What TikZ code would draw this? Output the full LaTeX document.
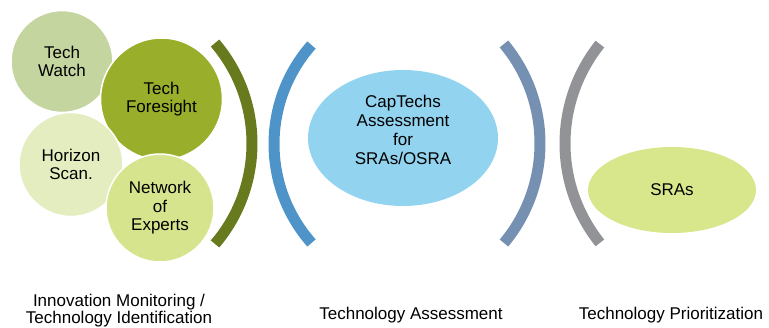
\documentclass[tikz,border=0pt]{standalone}
\usepackage{fontspec}
\setmainfont{Liberation Sans}
\usetikzlibrary{shapes.geometric}
\definecolor{watchgreen}{RGB}{197,213,160}
\definecolor{foregreen}{RGB}{153,174,42}
\definecolor{horizongreen}{RGB}{227,237,191}
\definecolor{expertgreen}{RGB}{214,229,141}
\definecolor{capblue}{RGB}{146,211,239}
\definecolor{sragreen}{RGB}{216,231,139}
\definecolor{olivearc}{RGB}{103,122,30}
\definecolor{bluearc}{RGB}{79,148,200}
\definecolor{slatearc}{RGB}{118,144,178}
\definecolor{grayarc}{RGB}{146,147,150}

\begin{document}
\begin{tikzpicture}[x=1pt, y=1pt,
                    every node/.style={font=\fontsize{17}{18.5}\selectfont, align=center, inner sep=0pt},
                    bubble_style/.style={circle, draw=white, line width=1.5pt, minimum size=#1},
                    oval_style/.style={ellipse, minimum width=#1},
                    arc_style/.style={line width=11pt}]
                    \useasboundingbox (0,0) rectangle (769,-327);
                    \node[bubble_style=102pt, fill=watchgreen] (watch) at (62,-61.5) {Tech\\Watch};
                    \node[bubble_style=122pt, fill=foregreen] (foresight) at (161.5,-99) {Tech\\Foresight};
                    \node[bubble_style=104pt, fill=horizongreen] (horizon) at (71,-164.5) {Horizon\\Scan.};
                    \node[bubble_style=108pt, fill=expertgreen] (experts) at (160,-208) {Network\\of\\Experts};
                    \node[oval_style=190pt, minimum height=136pt, fill=capblue] (cap) at (403,-138) {};
                    \node[font=\fontsize{17}{19}\selectfont] (captext) at ([yshift=8pt]cap.center) {CapTechs\\Assessment\\for\\SRAs/OSRA};
                    \node[oval_style=168pt, minimum height=86pt, fill=sragreen] (sras) at (672,-190) {SRAs};
                    \draw[arc_style, draw=olivearc] (97,-143.5) ++(-40.4:155) arc[start angle=-40.4, end angle=40.4, radius=155];
                    \draw[arc_style, draw=bluearc] (423.4,-144) ++(138.5:149.4) arc[start angle=138.5, end angle=221.5, radius=149.4];
                    \draw[arc_style, draw=slatearc] (384.5,-143.5) ++(-39.8:155.5) arc[start angle=-39.8, end angle=39.8, radius=155.5];
                    \draw[arc_style, draw=grayarc] (724,-143.5) ++(141.3:159) arc[start angle=141.3, end angle=218.7, radius=159];
                    \node[font=\fontsize{17}{17}\selectfont] (monitoring) at (119,-310.6) {Innovation Monitoring /\\Technology Identification};
                    \node[anchor=base] (assessment) at (411,-319) {Technology Assessment};
                    \node[anchor=base] (prioritization) at (671,-319) {Technology Prioritization};
                \end{tikzpicture}
\end{document}
